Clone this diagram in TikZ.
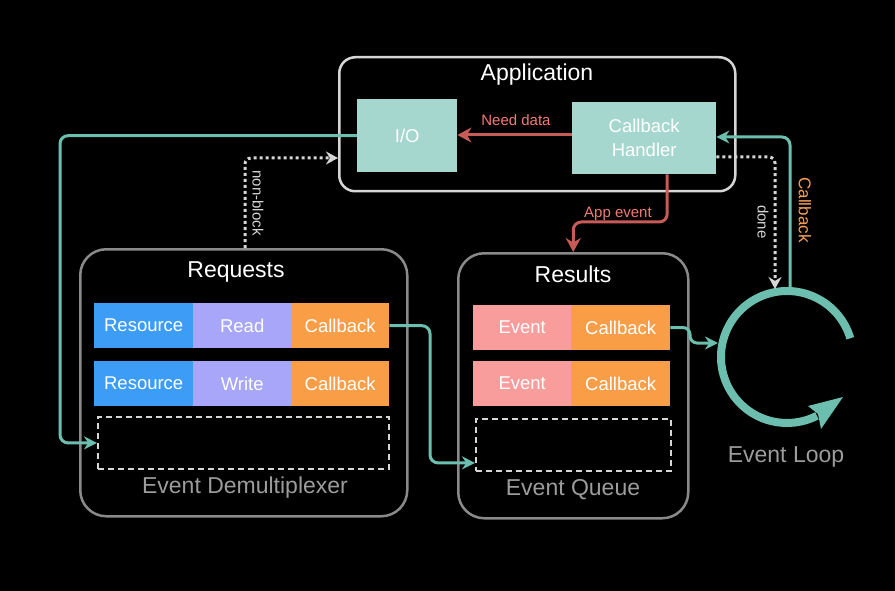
\documentclass[tikz,border=0pt]{standalone}
\usepackage{fontspec}
\setmainfont{Liberation Sans}
\usetikzlibrary{arrows.meta,calc}
\definecolor{tealbox}{HTML}{A6D7CF}
\definecolor{tealline}{HTML}{6CBFAE}
\definecolor{redline}{HTML}{C75B57}
\definecolor{redtext}{HTML}{F07A76}
\definecolor{orangetext}{HTML}{F5A05A}
\definecolor{cblue}{HTML}{3D9DF6}
\definecolor{clav}{HTML}{A8A6F8}
\definecolor{corange}{HTML}{F99E47}
\definecolor{cpink}{HTML}{F99C9C}
\definecolor{lightgray}{HTML}{D6D6D6}
\definecolor{midgray}{HTML}{8A8A8A}
\definecolor{labelgray}{HTML}{9C9C9C}
\tikzset{
  container/.style={draw=midgray, line width=2.5pt, rounded corners=26pt, anchor=north west, inner sep=0},
  appbox/.style={draw=lightgray, line width=2.5pt, rounded corners=16pt, anchor=north west, inner sep=0},
  tbox/.style={fill=tealbox, anchor=north west, inner sep=0, text=white, font=\fontsize{18.5}{22}\selectfont, align=center},
  cell/.style={anchor=north west, inner sep=0, minimum height=45pt, text=white, font=\fontsize{18.5}{22}\selectfont},
  slot/.style={draw=lightgray, dashed, line width=1.8pt, dash pattern=on 6pt off 4pt, anchor=north west, inner sep=0},
  titletext/.style={text=white, font=\fontsize{23}{26}\selectfont},
  graytext/.style={text=labelgray, font=\fontsize{23}{26}\selectfont},
  tline/.style={draw=tealline, line width=3pt, rounded corners=8pt, -{Stealth[length=13pt,width=13pt]}},
  rline/.style={draw=redline, line width=3pt, rounded corners=8pt, -{Stealth[length=14pt,width=15pt]}},
  dline/.style={draw=lightgray, line width=3pt, dash pattern=on 3pt off 3pt, rounded corners=6pt, -{Stealth[length=12pt,width=13pt]}},
  smalllabel/.style={font=\fontsize{15}{18}\selectfont}
}
\begin{document}
\begin{tikzpicture}[x=1pt,y=-1pt]
\fill[black] (0,0) rectangle (895,591);
\useasboundingbox (0,0) rectangle (895,591);

% Application
\node[appbox, minimum width=396pt, minimum height=134pt] (app) at (338,56) {};
\node[titletext] (apptitle) at (537,75) {Application};
\node[tbox, minimum width=100pt, minimum height=73pt] (io) at (357,99) {I/O};
\node[tbox, minimum width=144pt, minimum height=72pt] (ch) at (572,102) {Callback\\[2pt]Handler};

% Requests
\node[container, minimum width=327pt, minimum height=267pt] (req) at (79,248) {};
\node[titletext] (reqtitle) at (236,272) {Requests};
\node[cell, fill=cblue, minimum width=99pt] (r1a) at (94,303) {Resource};
\node[cell, fill=clav, minimum width=98pt] (r1b) at (193,303) {Read};
\node[cell, fill=corange, minimum width=98pt] (r1c) at (291,303) {Callback};
\node[cell, fill=cblue, minimum width=99pt] (r2a) at (94,361) {Resource};
\node[cell, fill=clav, minimum width=98pt] (r2b) at (193,361) {Write};
\node[cell, fill=corange, minimum width=98pt] (r2c) at (291,361) {Callback};
\node[slot, minimum width=291pt, minimum height=52pt] (dq1) at (97,416) {};
\node[graytext] (demux) at (245,488) {Event Demultiplexer};

% Results
\node[container, minimum width=230pt, minimum height=265pt] (res) at (457,252) {};
\node[titletext] (restitle) at (573,274) {Results};
\node[cell, fill=cpink, minimum width=98pt] (e1a) at (473,305) {Event};
\node[cell, fill=corange, minimum width=99pt] (e1b) at (571,305) {Callback};
\node[cell, fill=cpink, minimum width=98pt] (e2a) at (473,361) {Event};
\node[cell, fill=corange, minimum width=99pt] (e2b) at (571,361) {Callback};
\node[slot, minimum width=195pt, minimum height=52pt] (dq2) at (475,418) {};
\node[graytext] (queue) at (573,490) {Event Queue};

% Event loop
\coordinate (loopc) at (787,357);
\draw[draw=tealline, line width=8pt]
  (loopc) ++(-16.5:66) arc[start angle=-16.5, end angle=-297, radius=66];
\fill[tealline] (843,397) -- (808,406) -- (818,414) -- (821,429) -- cycle;
\node[graytext] (looplabel) at (786,457) {Event Loop};
\coordinate (loopin) at (718,343);
\coordinate (looptop) at (790,292);
\coordinate (loopdone) at (775,289);

% Red arrows
\draw[rline] (ch.west |- 0,135) -- (io.east |- 0,135);
\node[text=redtext, smalllabel] (needdata) at (516,120) {Need data};
\draw[rline] ([xshift=23pt]ch.south) |- ($(res.north)+(0,-30)$) -- (res.north);
\node[text=redtext, smalllabel] (appevent) at (618,214) {App event};

% Teal connectors
\draw[tline] (io.west) -| ($(dq1.west)+(-37,0)$) -- (dq1.west);
\draw[tline] (r1c.east) -| ($(dq2.west)+(-45,18)$) -- ($(dq2.west)+(0,18)$);
\draw[tline, rounded corners=7pt] (e1b.east) -- (690,327.5) -- (690,343) -- (loopin);
\draw[tline] (looptop) |- (ch.east |- 0,137);
\node[text=orangetext, rotate=-90, font=\fontsize{17}{20}\selectfont] (cblabel) at (805,210) {Callback};

% Dotted connectors
\draw[dline] (ch.east |- 0,157) -| (loopdone);
\node[text=lightgray, rotate=-90, smalllabel] (donelabel) at (763,222) {done};
\draw[dline] (req.north -| 245,0) |- (app.west |- 0,158);
\node[text=lightgray, rotate=-90, smalllabel] (nonblock) at (258,203) {non-block};
\end{tikzpicture}
\end{document}
